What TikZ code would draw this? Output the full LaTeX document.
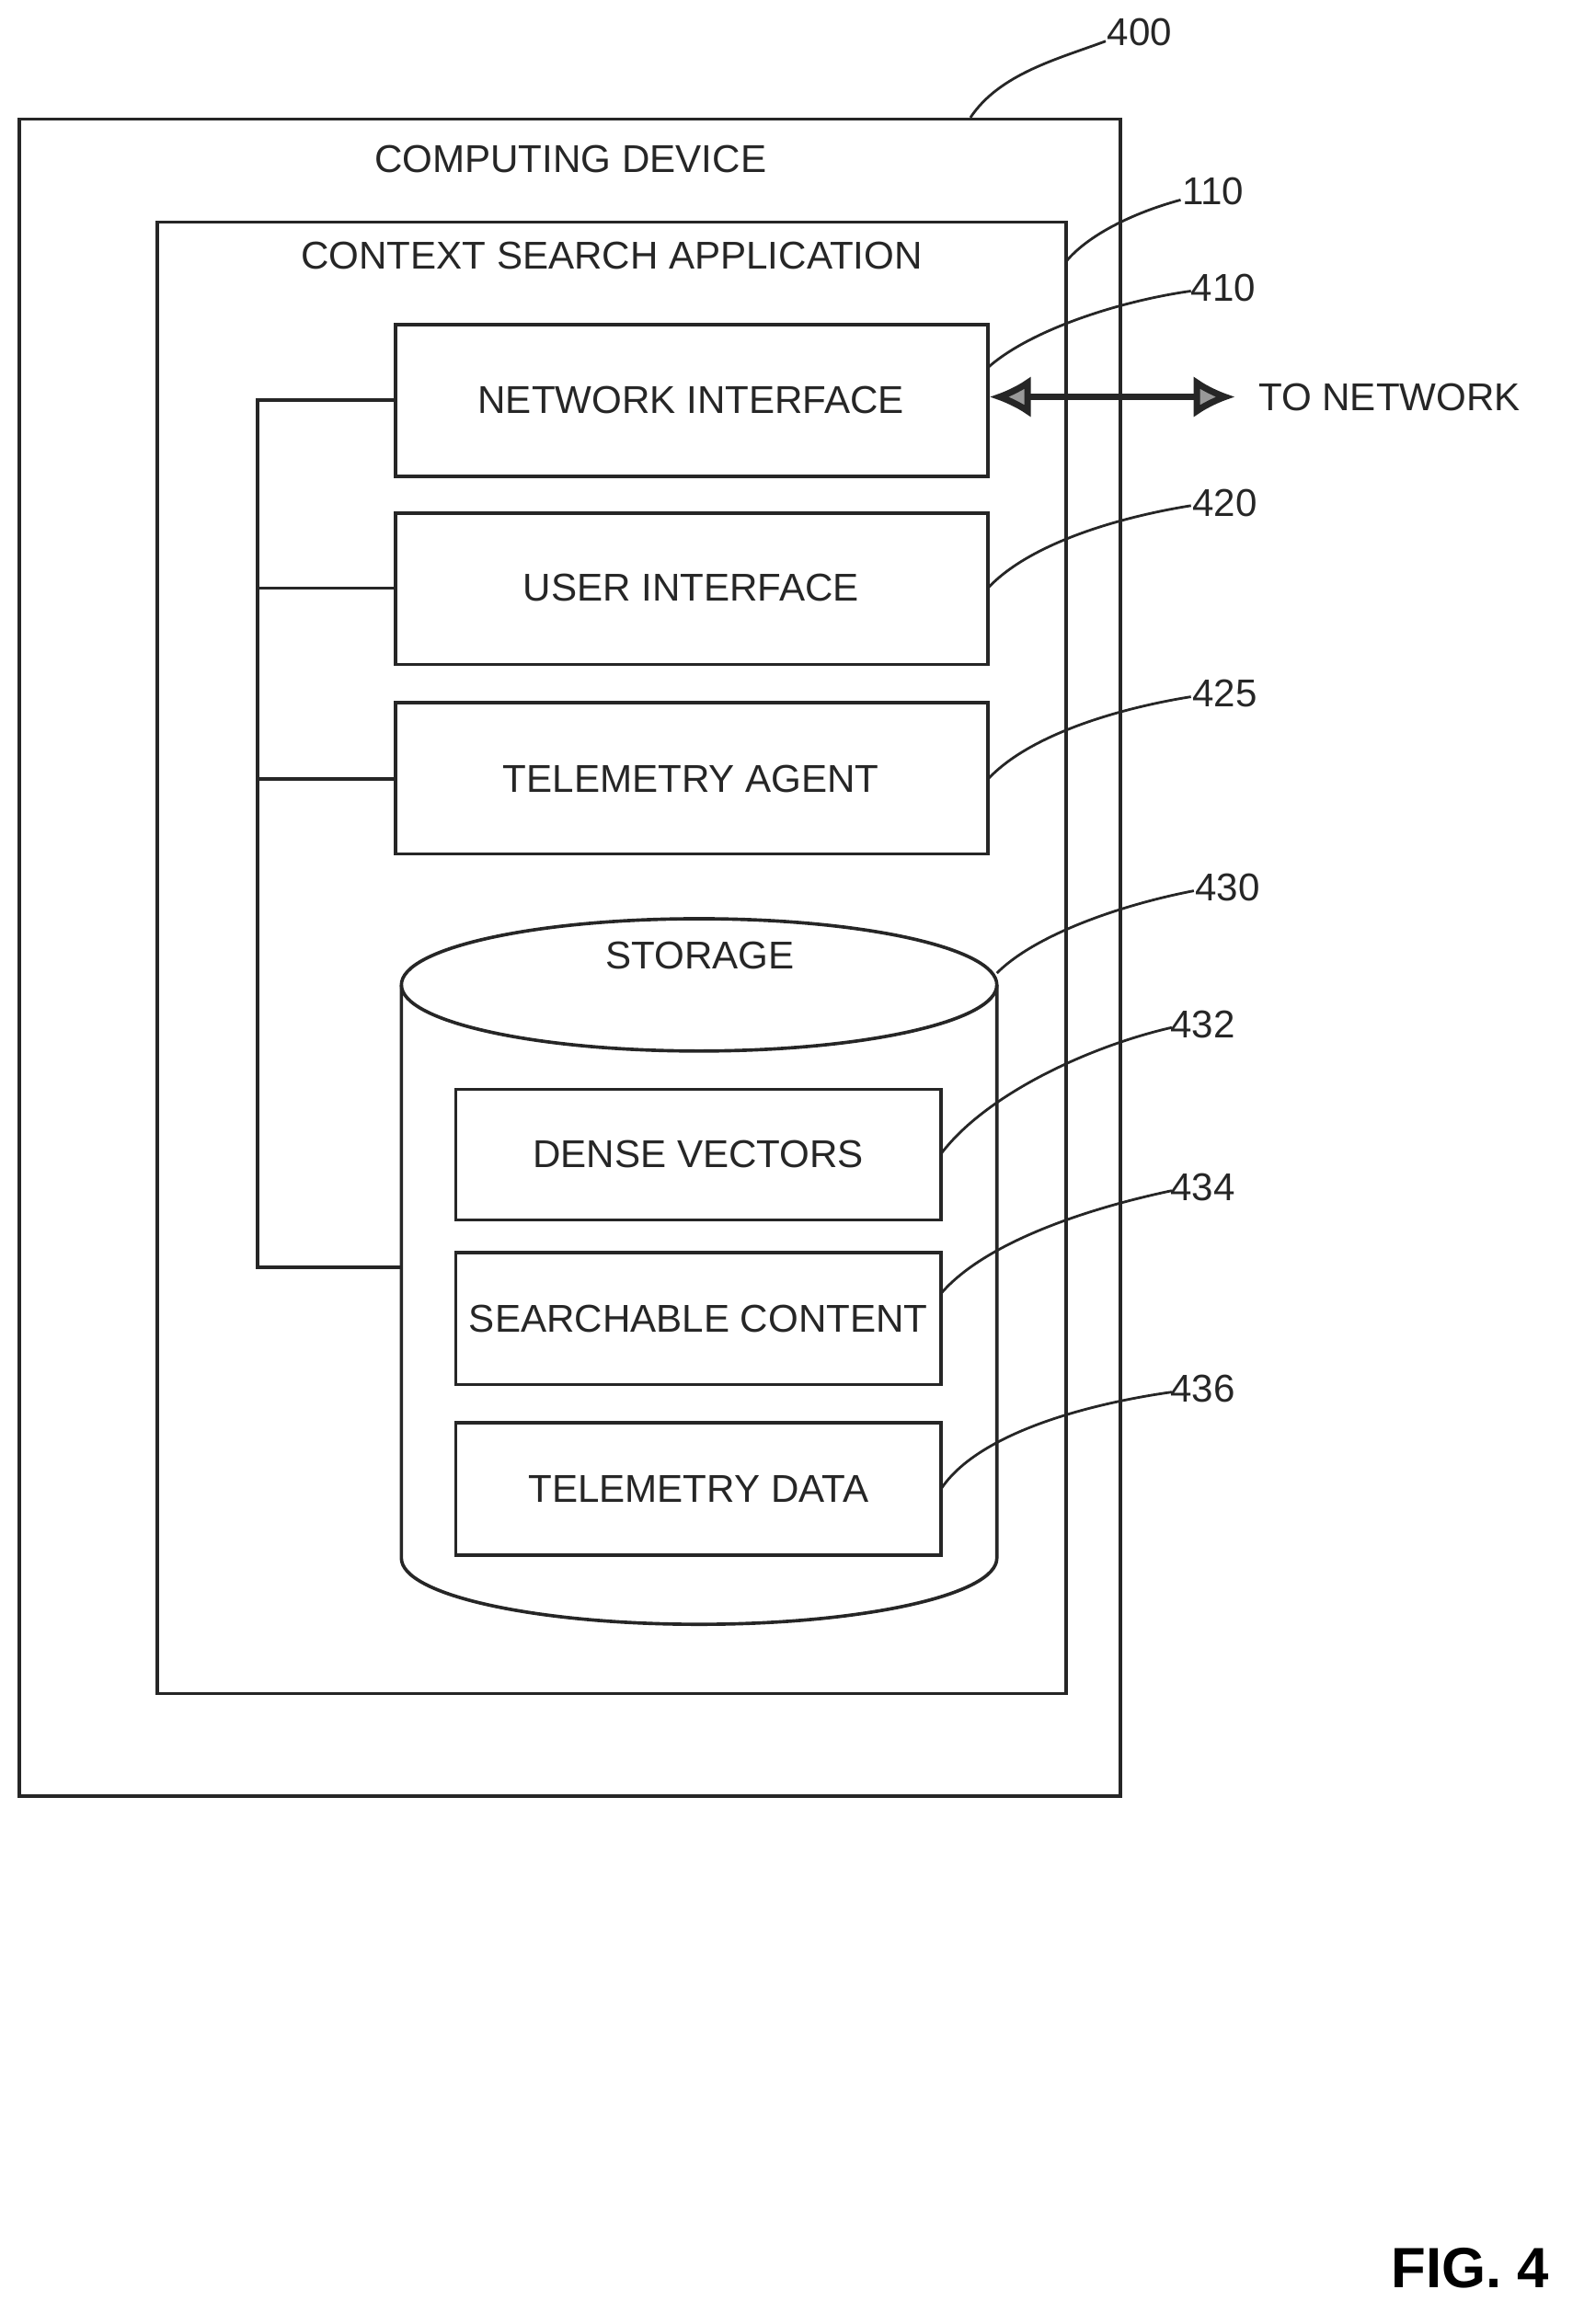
\documentclass[tikz,border=0pt]{standalone}
\usepackage{fontspec}
\setmainfont{Liberation Sans}
\usetikzlibrary{arrows.meta}
\begin{document}
\begin{tikzpicture}[x=0.02cm,y=-0.02cm,
  line width=1.3pt, draw=black!85,
  box/.style={draw=black!85,line width=1.3pt},
  lbl/.style={font=\fontsize{15}{18}\selectfont,text=black!85},
  num/.style={font=\fontsize{15}{18}\selectfont,text=black!85},
  lead/.style={line width=1pt,draw=black!85}]
\useasboundingbox (0,0) rectangle (1077,1581);
% outer
\draw[box] (13,81) rectangle (762,1222);
\node[lbl] (cd) at (388,108) {COMPUTING DEVICE};
\node[num] (n400) at (775,22) {400};
\coordinate (c400) at (660,80);
\draw[lead] (c400) .. controls (680,50) and (720,40) .. (752,28);
% inner
\draw[box] (107,151) rectangle (725,1152);
\node[lbl] (csa) at (416,174) {CONTEXT SEARCH APPLICATION};
\node[num] (n110) at (825,130) {110};
\coordinate (c110) at (725,178);
\draw[lead] (c110) .. controls (740,160) and (770,145) .. (803,136);
% boxes
\draw[box] (269,221) rectangle (672,324); \node[lbl] (ni) at (470,272) {NETWORK INTERFACE};
\draw[box] (269,349) rectangle (672,452); \node[lbl] (ui) at (470,400) {USER INTERFACE};
\draw[box] (269,478) rectangle (672,581); \node[lbl] (ta) at (470,530) {TELEMETRY AGENT};
\node[num] (n410) at (832,196) {410};
\node[num] (n420) at (833,342) {420};
\node[num] (n425) at (833,472) {425};
\draw[lead] (672,250) .. controls (700,225) and (760,205) .. (810,198);
\draw[lead] (672,400) .. controls (700,370) and (760,352) .. (810,344);
\draw[lead] (672,530) .. controls (700,500) and (760,482) .. (810,474);
% cylinder
\draw[box,fill=white] (273,670) -- (273,1060) arc[start angle=180,end angle=0,x radius=202.5,y radius=45] -- (678,670);
\draw[box] (475.5,670) ellipse [x radius=202.5,y radius=45];
\node[lbl] (st) at (476,650) {STORAGE};
\node[num] (n430) at (835,604) {430};
\draw[lead] (678,662) .. controls (705,635) and (765,615) .. (812,606);
\draw[box] (310,741) rectangle (640,830); \node[lbl] (dv) at (475,785) {DENSE VECTORS};
\draw[box] (310,852) rectangle (640,942); \node[lbl] (sc) at (475,897) {SEARCHABLE CONTENT};
\draw[box] (310,968) rectangle (640,1058); \node[lbl] (td) at (475,1013) {TELEMETRY DATA};
\node[num] (n432) at (818,697) {432};
\node[num] (n434) at (818,808) {434};
\node[num] (n436) at (818,945) {436};
\draw[lead] (640,785) .. controls (670,745) and (740,712) .. (797,699);
\draw[lead] (640,880) .. controls (670,845) and (740,822) .. (797,810);
\draw[lead] (640,1013) .. controls (665,975) and (740,955) .. (797,947);
% bus
\draw (269,272) -- (175,272) -- (175,862) -- (273,862);
\draw (175,400) -- (269,400);
\draw (175,530) -- (269,530);
% network arrow
\node[lbl] (tn) at (945,270) {TO NETWORK};
\draw[line width=2.5pt,{Latex[length=16pt,width=16pt,fill=black!40]}-{Latex[length=16pt,width=16pt,fill=black!40]}] (673,270) -- (840,270);
\node[font=\fontsize{22}{26}\selectfont\bfseries] (fig) at (1000,1543) {FIG. 4};
\end{tikzpicture}
\end{document}
